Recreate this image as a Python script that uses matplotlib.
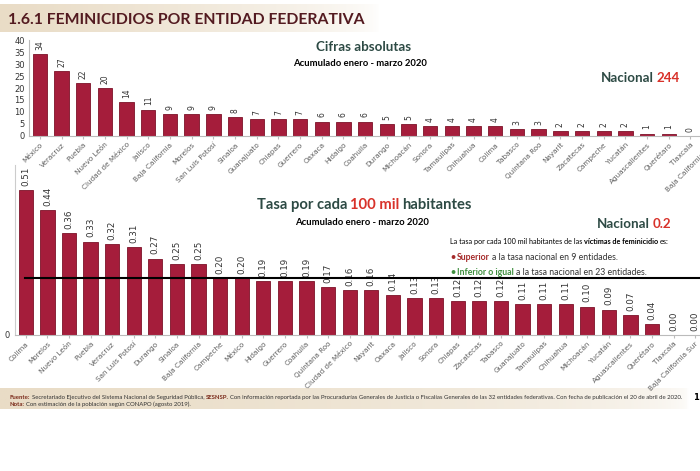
import matplotlib.pyplot as plt
from matplotlib.colors import LinearSegmentedColormap
import numpy as np

# Cifras absolutas (enero - marzo 2020)
estados_abs = ['México', 'Veracruz', 'Puebla', 'Nuevo León', 'Ciudad de México', 'Jalisco',
               'Baja California', 'Morelos', 'San Luis Potosí', 'Sinaloa', 'Guanajuato', 'Chiapas',
               'Guerrero', 'Oaxaca', 'Hidalgo', 'Coahuila', 'Durango', 'Michoacán', 'Sonora',
               'Tamaulipas', 'Chihuahua', 'Colima', 'Tabasco', 'Quintana Roo', 'Nayarit',
               'Zacatecas', 'Campeche', 'Yucatán', 'Aguascalientes', 'Querétaro', 'Tlaxcala',
               'Baja California Sur']
valores_abs = [34, 27, 22, 20, 14, 11, 9, 9, 9, 8, 7, 7, 7, 6, 6, 6, 5, 5, 4, 4, 4, 4, 3, 3,
               2, 2, 2, 2, 1, 1, 0, 0]

# Tasa por cada 100 mil habitantes
estados_tasa = ['Colima', 'Morelos', 'Nuevo León', 'Puebla', 'Veracruz', 'San Luis Potosí',
                'Durango', 'Sinaloa', 'Baja California', 'Campeche', 'México', 'Hidalgo',
                'Guerrero', 'Coahuila', 'Quintana Roo', 'Ciudad de México', 'Nayarit', 'Oaxaca',
                'Jalisco', 'Sonora', 'Chiapas', 'Zacatecas', 'Tabasco', 'Guanajuato', 'Tamaulipas',
                'Chihuahua', 'Michoacán', 'Yucatán', 'Aguascalientes', 'Querétaro', 'Tlaxcala',
                'Baja California Sur']
valores_tasa = [0.51, 0.44, 0.36, 0.33, 0.32, 0.31, 0.27, 0.25, 0.25, 0.20, 0.20, 0.19, 0.19,
                0.19, 0.17, 0.16, 0.16, 0.14, 0.13, 0.13, 0.12, 0.12, 0.12, 0.11, 0.11, 0.11,
                0.10, 0.09, 0.07, 0.04, 0.00, 0.00]
nacional_abs = 244
nacional_tasa = 0.2

rojo_barra = '#a51d3b'
borde_barra = '#7d1229'
verde_osc = '#2d4a44'
rojo_txt = '#d8322a'
gris = '#606060'
fuente_tit = ['Lato', 'DejaVu Sans']

W, H = 700, 471
fig = plt.figure(figsize=(W / 100, H / 100), dpi=100)
fig.patch.set_facecolor('white')
rend = fig.canvas.get_renderer()


def px(x, y):
    # pixeles (desde arriba a la izquierda) -> coordenadas de figura
    return x / W, 1 - y / H


def texto_rico(x, y, partes, size, family=fuente_tit, gap=0.3):
    # partes: (texto, color, peso); x, y en pixeles
    fx, fy = px(x, y)
    for s, c, w in partes:
        t = fig.text(fx, fy, s, color=c, fontsize=size, fontweight=w,
                     family=family, va='baseline', ha='left')
        bb = t.get_window_extent(renderer=rend)
        fx += (bb.width + size * gap) / W


# bandas decorativas
fondo = fig.add_axes([0, 0, 1, 1], zorder=-5)
fondo.set_xlim(0, W)
fondo.set_ylim(H, 0)
fondo.axis('off')
beige = LinearSegmentedColormap.from_list('beige', ['white', '#e9dcc6'])
grad = np.linspace(1, 0, 256).reshape(1, -1)
fondo.imshow(grad ** 0.6, extent=[0, 380, 32, 4], cmap=beige, vmin=0, vmax=1, aspect='auto')
fondo.imshow(grad ** 0.4, extent=[0, 690, 409, 388], cmap=beige, vmin=0, vmax=1, aspect='auto')

# titulo
fig.text(*px(8, 24), '1.6.1 FEMINICIDIOS POR ENTIDAD FEDERATIVA', fontsize=11.3,
         fontweight='bold', color='#531a20', family=fuente_tit, va='baseline')

# ---------- grafica superior ----------
ax1 = fig.add_axes([29 / W, 1 - 136 / H, 694 / W, 96 / H])
x1 = np.arange(len(estados_abs))
ax1.bar(x1, valores_abs, width=0.66, color=rojo_barra, edgecolor=borde_barra, linewidth=0.6)
for xi, v in zip(x1, valores_abs):
    ax1.annotate(str(v), (xi, v), xytext=(0, 3), textcoords='offset points',
                 rotation=90, ha='center', va='bottom', fontsize=5.5, color='#333333')
ax1.set_xlim(-0.5, len(estados_abs) - 0.5)
ax1.set_ylim(0, 40)
ax1.set_yticks(range(0, 41, 5))
ax1.set_xticks(x1)
ax1.set_xticklabels(estados_abs, rotation=45, ha='right', rotation_mode='anchor',
                    fontsize=5.2, color=gris)
ax1.tick_params(axis='y', labelsize=6, length=0, pad=3, colors='#333333')
ax1.tick_params(axis='x', length=2, color='#bbbbbb', pad=2)
for s in ['top', 'right']:
    ax1.spines[s].set_visible(False)
ax1.spines['left'].set_color('#bbbbbb')
ax1.spines['bottom'].set_color('#bbbbbb')
ax1.patch.set_alpha(0)

fig.text(*px(364, 51), 'Cifras absolutas', fontsize=9.6, fontweight='bold', color=verde_osc,
         family=fuente_tit, ha='center', va='baseline')
fig.text(*px(360, 66), 'Acumulado enero - marzo 2020', fontsize=6.8, fontweight='bold',
         color='black', family=fuente_tit, ha='center', va='baseline')
texto_rico(601, 82, [('Nacional', verde_osc, 'bold'), (str(nacional_abs), rojo_txt, 'bold')],
           9.6, gap=0.25)

# ---------- grafica inferior ----------
ax2 = fig.add_axes([15 / W, 1 - 335 / H, 691 / W, 170 / H])
x2 = np.arange(len(estados_tasa))
ax2.bar(x2, valores_tasa, width=0.66, color=rojo_barra, edgecolor=borde_barra, linewidth=0.6)
for xi, v in zip(x2, valores_tasa):
    ax2.annotate(f'{v:.2f}', (xi, v), xytext=(0, 3), textcoords='offset points',
                 rotation=90, ha='center', va='bottom', fontsize=6.3, color='#333333')
ax2.plot([-0.05, len(estados_tasa)], [nacional_tasa, nacional_tasa], color='black', lw=1.5,
         zorder=5, clip_on=False)
ax2.set_xlim(-0.5, len(estados_tasa) - 0.5)
ax2.set_ylim(0, 0.6)
ax2.set_yticks([0])
ax2.set_yticklabels(['0'])
ax2.set_xticks(x2)
ax2.set_xticklabels(estados_tasa, rotation=45, ha='right', rotation_mode='anchor',
                    fontsize=5.2, color=gris)
ax2.tick_params(axis='y', labelsize=6, length=0, pad=4, colors='#333333')
ax2.tick_params(axis='x', length=2, color='#bbbbbb', pad=2)
for s in ['top', 'right']:
    ax2.spines[s].set_visible(False)
ax2.spines['left'].set_color('#cccccc')
ax2.spines['bottom'].set_color('#bbbbbb')
ax2.patch.set_alpha(0)

texto_rico(257, 209, [('Tasa por cada', verde_osc, 'bold'), ('100 mil', rojo_txt, 'bold'),
                      ('habitantes', verde_osc, 'bold')], 10.6, gap=0.25)
fig.text(*px(362, 225), 'Acumulado enero - marzo 2020', fontsize=6.8, fontweight='bold',
         color='black', family=fuente_tit, ha='center', va='baseline')
texto_rico(597, 228, [('Nacional', verde_osc, 'bold'), (str(nacional_tasa), rojo_txt, 'bold')],
           9.6, gap=0.25)

texto_rico(450, 244, [('La tasa por cada 100 mil habitantes de las', 'black', 'normal'),
                      ('víctimas de feminicidio', 'black', 'bold'), ('es:', 'black', 'normal')], 5.2)
texto_rico(450, 260, [('•', '#a52a2a', 'bold'), ('Superior', '#a52a2a', 'bold'),
                      ('a la tasa nacional en 9 entidades.', '#333333', 'normal')], 6.3)
texto_rico(450, 275, [('•', '#3f8f3f', 'bold'), ('Inferior o igual', '#3f8f3f', 'bold'),
                      ('a la tasa nacional en 23 entidades.', '#333333', 'normal')], 6.3)

# pie
texto_rico(10, 399, [('Fuente:', '#7a2a1a', 'bold'),
                     ('Secretariado Ejecutivo del Sistema Nacional de Seguridad Pública,', '#333333', 'normal'),
                     ('SESNSP.', '#7a2a1a', 'bold'),
                     ('Con información reportada por las Procuradurías Generales de Justicia o Fiscalías '
                      'Generales de las 32 entidades federativas. Con fecha de publicación el 20 de abril de 2020.',
                      '#333333', 'normal')], 4.3)
texto_rico(10, 406, [('Nota:', '#7a2a1a', 'bold'),
                     ('Con estimación de la población según CONAPO (agosto 2019).', '#333333', 'normal')], 4.3)
fig.text(*px(693, 400), '1', fontsize=6, fontweight='bold', color='black', va='baseline')

fig.savefig('out.png', dpi=100)
